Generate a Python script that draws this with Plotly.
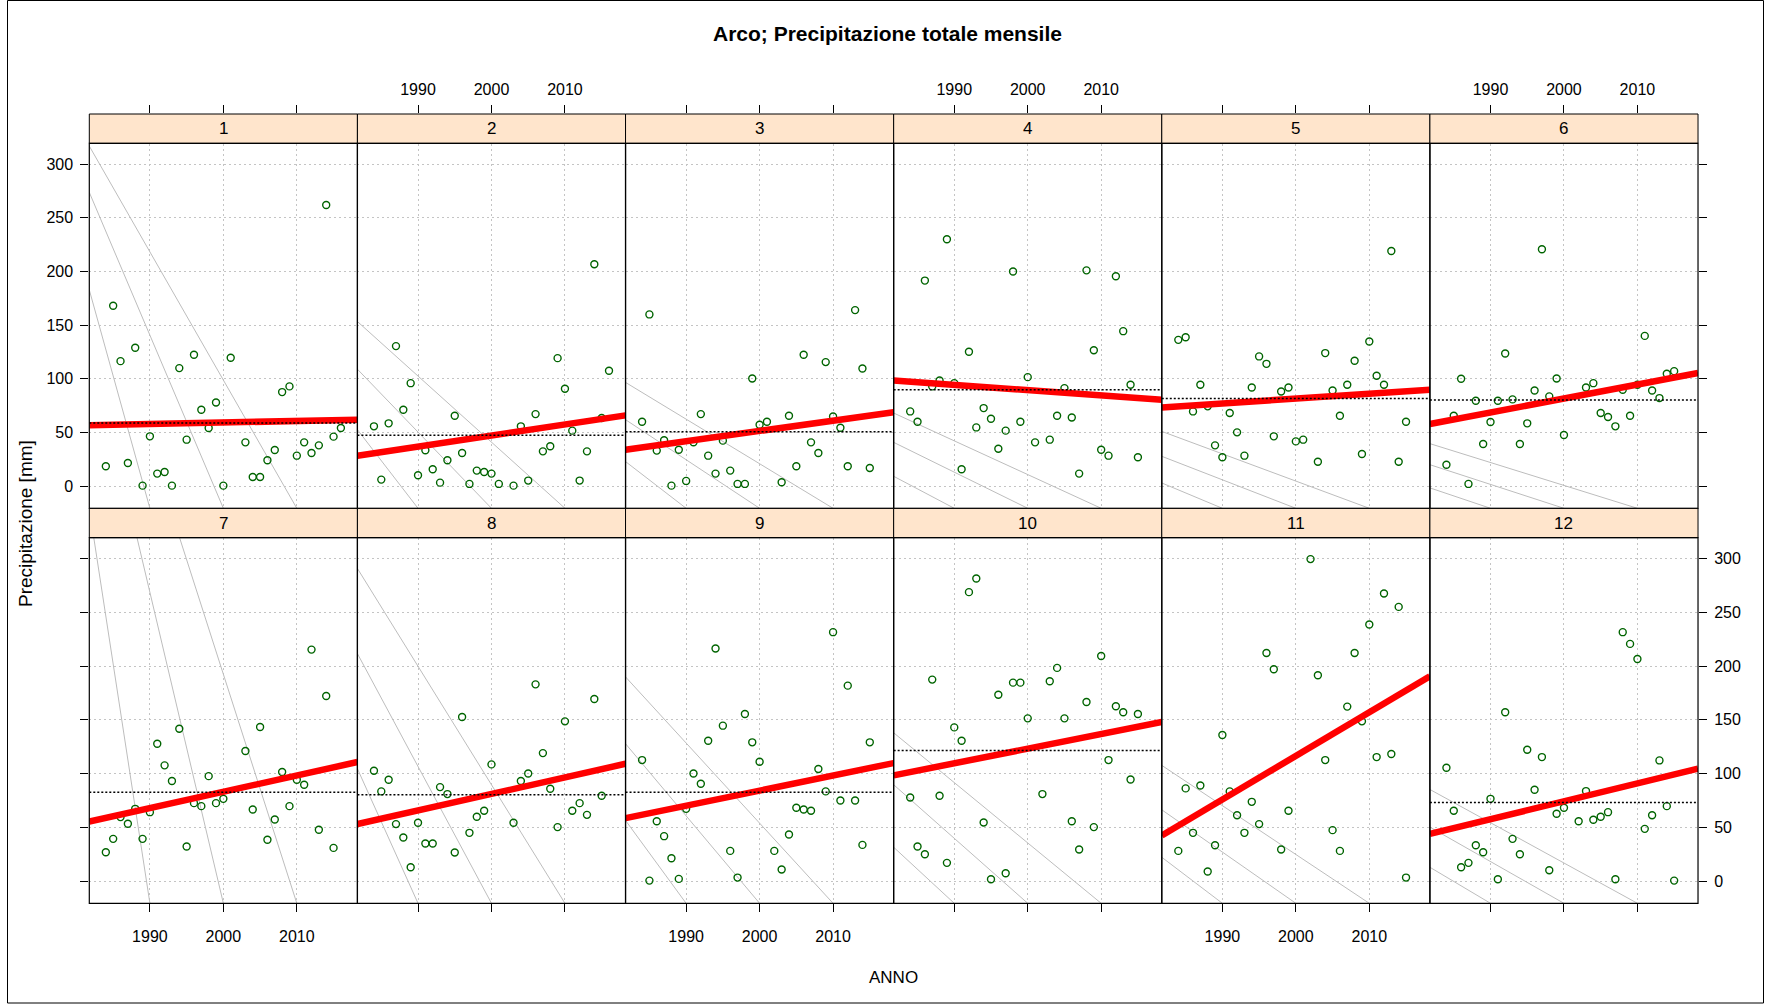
import plotly.graph_objects as go

# ---------------- data ----------------
years = list(range(1984, 2017))

m1 = [18.6, 168, 116.5, 21.7, 129, 0.6, 46.5, 11.8, 13.3, 0.6, 110, 43.4, 122.4, 71.3, 54.2, 78, 0.6, 119.6, None,
      40.9, 8.7, 8.7, 24.2, 33.8, 87.7, 93, 28.5, 40.9, 31, 38.1, 261.8, 46.2, 54.2]
m2 = [55.8, 6.2, 58.6, 130.5, 71.3, 96, 10.2, 33.5, 15.8, 3.4, 24.2, 65.7, 31, 2.2, 14.6, 13.3, 11.8, 2.2, None,
      0.6, 55.8, 5.3, 67.2, 32.5, 37.2, 119.3, 90.8, 51.8, 5.3, 32.5, 206.7, 63.5, 107.5]
m3 = [60.1, 160, 33.2, 42.8, 0.6, 34, 5, 41, 67.2, 28.5, 11.8, 42.5, 14.6, 2.2, 2.2, 100.4, 57.3, 60.1, None,
      3.7, 65.7, 18.6, 122.4, 40.9, 31, 115.6, 65, 54.5, 18.6, 164, 109.7, 17, None]
m4 = [69.7, 60.1, 191.5, 93, 98.5, 230, 96, 15.8, 125.2, 54.8, 72.8, 62.9, 35, 51.8, 199.9, 60.1, 101.6, 40.9, None,
      43.4, 65.7, 91.4, 64.1, 11.8, 201, 126.7, 34, 28.5, 195.5, 144.4, 94.5, 27, None]
m5 = [136.3, 138.8, 69.7, 94.5, 74.4, 38.1, 27, 68.2, 50.2, 28.5, 92, 120.9, 114, 46.5, 88.3, 92, 41.8, 43.4, None,
      22.9, 124, 89.2, 65.7, 94.5, 116.8, 30, 134.8, 102.9, 94.5, 219, 22.9, 60.1, None]
m6 = [20.1, 65.7, 100.1, 2.2, 79.6, 39.4, 59.8, 79.6, 123.6, 80.9, 39.4, 58.6, 89.2, 220.6, 83.7, 100.4, 47.7, None, None,
      92, 96, 68.2, 64.5, 55.8, 89.9, 65.7, 94.5, 140, 89.2, 82.1, 104.7, 107.2, None]
m7 = [27, 39.4, 59.6, 53.4, 67.3, 39.4, 64.2, 127.8, 107.7, 93.1, 141.8, 32.3, 72.6, 69.8, 97.7, 72.6, 76.6, None, None,
      121, 66.7, 143.3, 38.5, 57.4, 101.5, 69.8, 94.3, 89.7, 215.3, 47.8, 172.2, 31, None]
m8 = [102.7, 83.5, 94.3, 53.1, 40.6, 13, 54.3, 35.1, 35.1, 87.5, 81, 26.7, 152.7, 45, 59.9, 65.5, 108.6, None, None,
      54.3, 93.1, 100.2, 183, 119.1, 85.9, 50.3, 148.6, 65.5, 72.6, 61.7, 169.4, 79.4, None]
m9 = [112.6, 0.6, 55.8, 41.9, 21.4, 2.2, 67.3, 100.2, 90.6, 130.6, 216.3, 144.6, 28.2, 3.4, 155.4, 129.1, 111.1, None, 28.2,
      10.9, 43.4, 68.3, 66.7, 65.5, 104.3, 83.5, 231.5, 75.1, 181.8, 75.1, 33.8, 129.1, None]
m10 = [77.9, 32.3, 25.1, 187.4, 79.4, 17.1, 143, 130.6, 268.7, 281.4, 54.6, 1.9, 173.4, 7.4, 184.6, 184.6, 151.4, None, 81,
       185.9, 198.3, 151.4, 55.8, 29.5, 166.6, 50.3, 209.4, 112.6, 162.6, 157, 94.6, 155.4, None]
m11 = [28.2, 86.3, 45, 89, 9, 33.5, 135.9, 83.5, 61.4, 45, 73.8, 53.1, 212.2, 197, 29.5, 65.5, None, None, 299.4,
       191.4, 112.6, 47.5, 28.2, 162.3, 212.2, 148.6, 238.6, 115.4, 267.5, 118.2, 255, 3.4, None]
m12 = [105.5, 65.5, 13, 17.1, 33.5, 27, 76.6, 1.9, 157, 39.4, 25.1, 122.2, 85, 115.4, 10.2, 62.7, 68.3, None, 55.8,
       83.8, 57.1, 59.9, 64.2, 1.9, 231.5, 220.6, 206.6, 48.7, 61.4, 112.3, 69.8, 0.6, None]

panel_labels = ["1", "2", "3", "4", "5", "6", "7", "8", "9", "10", "11", "12"]

# trend line value at left / right edge of the x range
trend_start = [56.7, 28.5, 34, 98.5, 73.4, 58, 55.5, 53.1, 58.6, 98.4, 42.5, 44]
trend_end = [62, 66, 69, 80.6, 89.9, 105.4, 110.8, 109.2, 109.8, 148, 190.5, 104.6]
# long-term mean (dotted)
mean_mm = [58.9, 47.4, 50.8, 89.9, 81.8, 80.3, 82.8, 80.4, 82.8, 121.6, None, 73.2]
# grey reference lines: value at the left edge, reaching the bottom at grey_end_years
grey_a = [182.8, 52.7, 23, 9.3, 3.1, -1.5, 346.5, 104.6, 56.5, 31.6, 22.3, 13]
grey_b = [273.6, 109, 62, 40.9, 27.9, 20.1, 507, 211.6, 127.8, 89.7, 66.4, 50.3]
grey_c = [316.7, 153.4, 96.7, 68.2, 51.1, 39.7, 581, 290.7, 189.9, 138, 107.7, 85.3]
grey_end_years = [1990, 2000, 2010]

x_ticks = [1990, 2000, 2010]
y_ticks = [0, 50, 100, 150, 200, 250, 300]

months = [m1, m2, m3, m4, m5, m6, m7, m8, m9, m10, m11, m12]

# ---------------- layout constants ----------------
W, H = 1769, 1004
X_LO, X_HI = 1981.75, 2018.25
Y_LO, Y_HI = -20.5, 319.3
PANEL_L = 89.3
PANEL_W = 268.12
ROW_TOP = [143.3, 537.7]
ROW_BOT = [508.3, 903.3]
STRIP_H = 29.3
FONT = "Liberation Sans Narrow, Arial Narrow, Liberation Sans, Arial, sans-serif"
GRID = "#c4c4c4"


def fx(p):
    return p / W


def fy(p):
    return 1 - p / H


fig = go.Figure()
layout = dict(
    template="none",
    width=W, height=H, margin=dict(l=0, r=0, t=0, b=0, pad=0, autoexpand=False),
    paper_bgcolor="white", plot_bgcolor="rgba(0,0,0,0)",
    showlegend=False, font=dict(family=FONT, color="black"),
)
shapes = []
annotations = []

for i in range(12):
    r, c = divmod(i, 6)
    sfx = "" if i == 0 else str(i + 1)
    xa, ya = "x" + sfx, "y" + sfx
    x0 = PANEL_L + c * PANEL_W
    x1 = x0 + PANEL_W
    top, bot = ROW_TOP[r], ROW_BOT[r]
    if r == 0:
        dom_top = top - STRIP_H
        y_hi = Y_LO + (Y_HI - Y_LO) * (bot - dom_top) / (bot - top)
    else:
        dom_top = top
        y_hi = Y_HI

    # x axis
    if r == 0:
        x_side, x_lab = "top", c in (1, 3, 5)
    else:
        x_side, x_lab = "bottom", c in (0, 2, 4)
    layout["xaxis" + sfx] = dict(
        domain=[fx(x0), fx(x1)], range=[X_LO, X_HI], anchor=ya, automargin=False,
        tickmode="array", tickvals=x_ticks, ticktext=[str(t) for t in x_ticks],
        showgrid=True, gridcolor=GRID, griddash="2px,3px", gridwidth=1,
        zeroline=False, showline=False,
        ticks="outside", ticklen=8, tickwidth=1, tickcolor="black",
        side=x_side, showticklabels=x_lab,
        tickfont=dict(family=FONT, size=16, color="black"),
        ticklabelstandoff=4 if r == 0 else 10,
        fixedrange=True,
    )
    # y axis
    yconf = dict(
        domain=[fy(bot), fy(dom_top)], range=[Y_LO, y_hi], anchor=xa, automargin=False,
        tickmode="array", tickvals=y_ticks, ticktext=[str(t) for t in y_ticks],
        showgrid=True, gridcolor=GRID, griddash="2px,3px", gridwidth=1,
        zeroline=False, showline=False,
        tickfont=dict(family=FONT, size=16, color="black"),
        fixedrange=True,
    )
    if i == 0:
        yconf.update(side="left", ticks="outside", ticklen=8, tickcolor="black", showticklabels=True,
                     ticklabelstandoff=4)
    elif i == 6:
        yconf.update(side="left", ticks="outside", ticklen=8, tickcolor="black", showticklabels=False)
    elif i == 5:
        yconf.update(side="right", ticks="outside", ticklen=8, tickcolor="black", showticklabels=False)
    elif i == 11:
        yconf.update(side="right", ticks="outside", ticklen=8, tickcolor="black", showticklabels=True,
                     ticklabelstandoff=4)
    else:
        yconf.update(ticks="", showticklabels=False)
    layout["yaxis" + sfx] = yconf

    # grey reference lines
    gx, gy = [], []
    for left_val, end_year in zip((grey_a[i], grey_b[i], grey_c[i]), grey_end_years):
        gx += [X_LO, end_year, None]
        gy += [left_val, Y_LO, None]
    fig.add_trace(go.Scatter(x=gx, y=gy, mode="lines", xaxis=xa, yaxis=ya,
                             line=dict(color="#bdbdbd", width=1), hoverinfo="skip"))

    # observations
    vals = months[i]
    px = [yr for yr, v in zip(years, vals) if v is not None]
    py = [v for v in vals if v is not None]
    fig.add_trace(go.Scatter(x=px, y=py, mode="markers", xaxis=xa, yaxis=ya,
                             marker=dict(symbol="circle-open", size=7, color="#006400",
                                         line=dict(width=1.4, color="#006400"))))

    # trend line
    fig.add_trace(go.Scatter(x=[X_LO, X_HI], y=[trend_start[i], trend_end[i]], mode="lines",
                             xaxis=xa, yaxis=ya, line=dict(color="#ff0000", width=6.5)))

    # mean line
    if mean_mm[i] is not None:
        fig.add_trace(go.Scatter(x=[X_LO, X_HI], y=[mean_mm[i], mean_mm[i]], mode="lines",
                                 xaxis=xa, yaxis=ya,
                                 line=dict(color="black", width=1.5, dash="2px,2px")))

    # strip
    s_top, s_bot = top - STRIP_H, top
    shapes.append(dict(type="rect", xref="paper", yref="paper", layer="above",
                       x0=fx(x0), x1=fx(x1), y0=fy(s_bot), y1=fy(s_top),
                       fillcolor="#ffe5cc", line=dict(color="black", width=1)))
    # panel border
    shapes.append(dict(type="rect", xref="paper", yref="paper", layer="above",
                       x0=fx(x0), x1=fx(x1), y0=fy(bot), y1=fy(top),
                       fillcolor="rgba(0,0,0,0)", line=dict(color="black", width=1.2)))
    annotations.append(dict(text=panel_labels[i], xref="paper", yref="paper",
                            x=fx((x0 + x1) / 2), y=fy((s_top + s_bot) / 2),
                            showarrow=False, xanchor="center", yanchor="middle",
                            font=dict(family=FONT, size=17, color="black")))

# outer frame
shapes.append(dict(type="rect", xref="paper", yref="paper", layer="above",
                   x0=fx(7.5), x1=fx(1763.5), y0=fy(1003), y1=fy(0.5),
                   fillcolor="rgba(0,0,0,0)", line=dict(color="black", width=1)))

annotations.append(dict(text="<b>Arco; Precipitazione totale mensile</b>", xref="paper", yref="paper",
                        x=fx(887), y=fy(34), showarrow=False, xanchor="center", yanchor="middle",
                        font=dict(family=FONT, size=21, color="black")))
annotations.append(dict(text="ANNO", xref="paper", yref="paper",
                        x=fx(893), y=fy(977), showarrow=False, xanchor="center", yanchor="middle",
                        font=dict(family=FONT, size=17, color="black")))
annotations.append(dict(text="Precipitazione [mm]", xref="paper", yref="paper",
                        x=fx(25), y=fy(524), showarrow=False, xanchor="center", yanchor="middle",
                        textangle=-90, font=dict(family=FONT, size=19, color="black")))

layout["shapes"] = shapes
layout["annotations"] = annotations
fig.update_layout(**layout)
fig.write_html("out.html", config={"displayModeBar": False},
               post_script="document.body.style.margin='0';document.body.style.overflow='hidden';")
